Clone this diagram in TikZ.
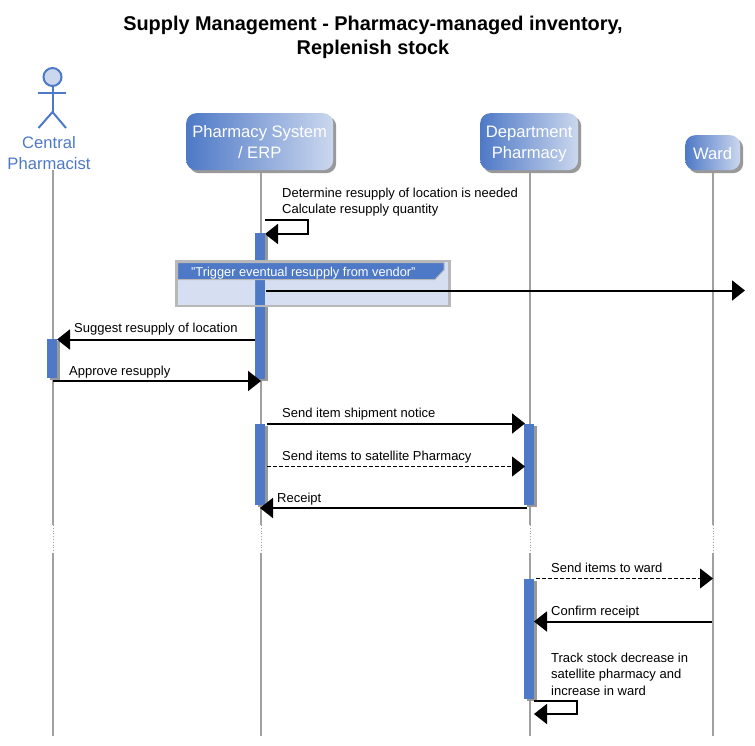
\documentclass[tikz,border=0pt]{standalone}
\usepackage{fontspec}
\setmainfont{Liberation Sans}
\usetikzlibrary{arrows.meta,shadows,calc}
\definecolor{umlblue}{HTML}{4E79C6}
\definecolor{umllight}{HTML}{CBD7EE}
\definecolor{framefill}{HTML}{D6DFF2}
\definecolor{framegray}{HTML}{B8B8B8}
\definecolor{lifegray}{HTML}{A0A0A0}
\definecolor{shadowgray}{HTML}{999999}
\newcommand{\lanetext}[2][2.5pt]{\strut\raisebox{-#1}{#2}}
\tikzset{
  lifeline/.style={draw=lifegray,line width=2.4pt},
  lifebreak/.style={draw=lifegray,line width=.8pt,dotted},
  lane/.style={rounded corners=10pt,left color=umlblue,right color=umllight,inner sep=0pt,text=white,align=center,
     font=\fontsize{16.6}{21}\selectfont,anchor=north west,
     drop shadow={shadow xshift=3pt,shadow yshift=-3pt,fill=shadowgray,opacity=1}},
  bar/.style={fill=umlblue,minimum width=10pt,inner sep=0pt,anchor=north west,
     drop shadow={shadow xshift=3pt,shadow yshift=-2pt,fill=shadowgray,opacity=1}},
  msg/.style={line width=2pt,-{Triangle[length=13pt,width=20pt]}},
  dmsg/.style={line width=1.1pt,dash pattern=on 4pt off 2pt,-{Triangle[length=13pt,width=20pt]}},
  lbl/.style={anchor=base west,inner sep=0pt,font=\fontsize{13}{16.3}\selectfont,align=left},
  actorline/.style={draw=umlblue,line width=2pt},
  actorlabel/.style={inner sep=0pt,text=umlblue,align=center,font=\fontsize{16.6}{21}\selectfont},
}
\begin{document}
\begin{tikzpicture}[x=1pt,y=-1pt]
\useasboundingbox (0,0) rectangle (755,746);
% title
\node[inner sep=0pt,align=center,anchor=base,font=\bfseries\fontsize{19.9}{24}\selectfont] (title) at (373,55)
  {Supply Management - Pharmacy-managed inventory,\\Replenish stock};
% lifelines
\foreach \n/\x in {a/53,b/261,c/530,d/713}{
  \coordinate (\n top) at (\x,170);
  \coordinate (\n bra) at (\x,525);
  \coordinate (\n brb) at (\x,553);
  \coordinate (\n end) at (\x,736);
  \draw[lifeline] (\n top) -- (\n bra);
  \draw[lifebreak] (\n bra) -- (\n brb);
  \draw[lifeline] (\n brb) -- (\n end);
}
% actor
\node[circle,draw=umlblue,fill=umllight,line width=2pt,minimum size=18pt,inner sep=0pt] (head) at (52.5,77) {};
\coordinate (hip) at (52.5,112);
\coordinate (armL) at (38,93);
\coordinate (armR) at (66,93);
\coordinate (legL) at (38.5,128);
\coordinate (legR) at (66,128);
\draw[actorline] (head.south) -- (hip);
\draw[actorline] (armL) -- (armR);
\draw[actorline] (legL) -- (hip) -- (legR);
\node[actorlabel] (actor) at (49,153.5) {Central\\Pharmacist};
% lanes
\node[lane,minimum width=147pt,minimum height=57pt] (pharm) at (186,113) {\lanetext{Pharmacy System}\\\lanetext{/ ERP}};
\node[lane,minimum width=98pt,minimum height=57pt] (dept) at (480,113) {\lanetext{Department}\\\lanetext{Pharmacy}};
\node[lane,minimum width=55pt,minimum height=35pt] (ward) at (685,135) {\lanetext[3pt]{Ward}};
% activation bars
\node[bar,minimum height=146pt] (b1) at (255,233) {};
\node[bar,minimum height=39pt] (a1) at (47,339) {};
\node[bar,minimum height=81pt] (b2) at (255,424) {};
\node[bar,minimum height=81pt] (c1) at (524,424) {};
\node[bar,minimum height=120pt] (c2) at (524,579) {};
% frame
\fill[framefill] (176,261) rectangle (255,306) (265,261) rectangle (450,306);
\node[draw=framegray,line width=2.5pt,outer sep=0pt,minimum width=273pt,minimum height=45pt,inner sep=0pt,anchor=north west] (frame) at (176.5,261) {};
\fill[umlblue,draw=framegray,line width=1pt] (177.5,262.5) -- (444,262.5) -- (444,270) -- (435,279.5) -- (177.5,279.5) -- cycle;
\node[lbl,text=white,font=\fontsize{12.8}{16}\selectfont] (framelabel) at (191,276.5) {"Trigger eventual resupply from vendor"};
% messages
\coordinate (s1) at (265,220);
\coordinate (s1a) at (308,220);
\coordinate (s1b) at (308,234);
\coordinate (s1c) at (265,234);
\draw[msg] (s1) -- (s1a) -- (s1b) -- (s1c);
\node[lbl] (m1) at (282,214) {Determine resupply of location is needed\\Calculate resupply quantity};
\coordinate (t0) at (266,290.5);
\coordinate (t1) at (745,290.5);
\draw[msg] (t0) -- (t1);
\coordinate (sg0) at (255,339.5);
\coordinate (sg1) at (57,339.5);
\draw[msg] (sg0) -- (sg1);
\node[lbl] (m2) at (74,332) {Suggest resupply of location};
\coordinate (ap0) at (53,381);
\coordinate (ap1) at (261,381);
\draw[msg] (ap0) -- (ap1);
\node[lbl] (m3) at (69,375) {Approve resupply};
\coordinate (sn0) at (267,423.5);
\coordinate (sn1) at (525,423.5);
\draw[msg] (sn0) -- (sn1);
\node[lbl] (m4) at (282,417) {Send item shipment notice};
\coordinate (si0) at (267,466.5);
\coordinate (si1) at (525,466.5);
\draw[dmsg] (si0) -- (si1);
\node[lbl] (m5) at (282,460) {Send items to satellite Pharmacy};
\coordinate (re0) at (527,508);
\coordinate (re1) at (260,508);
\draw[msg] (re0) -- (re1);
\node[lbl] (m6) at (277,502) {Receipt};
\coordinate (w0) at (536,578.5);
\coordinate (w1) at (713,578.5);
\draw[dmsg] (w0) -- (w1);
\node[lbl] (m7) at (551,572) {Send items to ward};
\coordinate (cr0) at (712,621.5);
\coordinate (cr1) at (534,621.5);
\draw[msg] (cr0) -- (cr1);
\node[lbl] (m8) at (551,615) {Confirm receipt};
\coordinate (s2) at (534,701);
\coordinate (s2a) at (577,701);
\coordinate (s2b) at (577,714);
\coordinate (s2c) at (534,714);
\draw[msg] (s2) -- (s2a) -- (s2b) -- (s2c);
\node[lbl] (m9) at (551,695) {Track stock decrease in\\satellite pharmacy and\\increase in ward};
\end{tikzpicture}
\end{document}
